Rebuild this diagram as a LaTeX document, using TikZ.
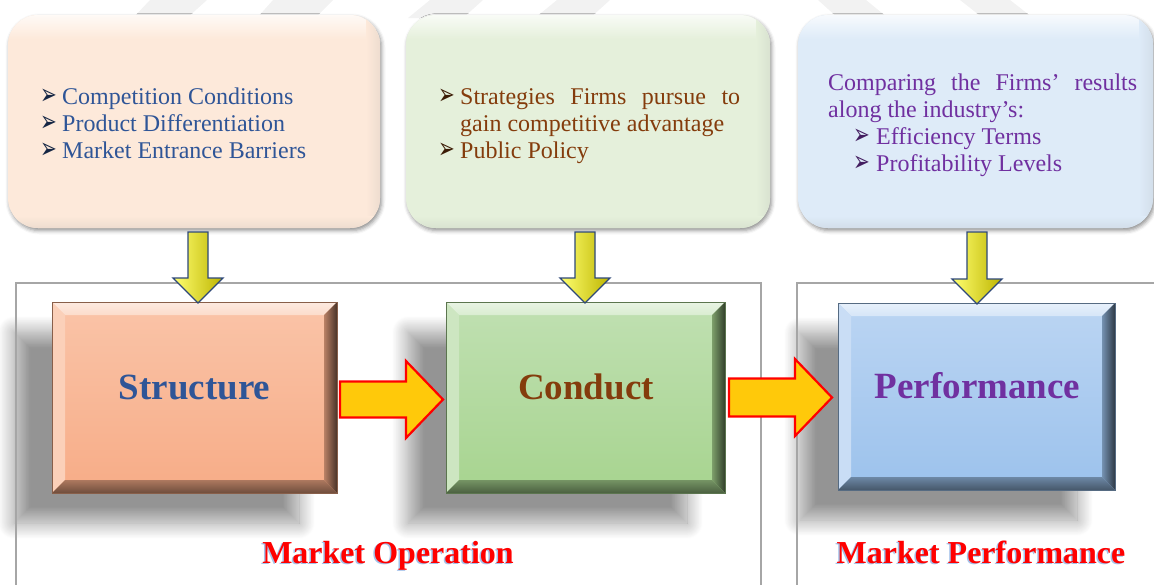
\documentclass[tikz,border=0pt]{standalone}
\usepackage{fontspec}
\setmainfont{Liberation Serif}
\newfontfamily\symfont{DejaVu Sans}
\usetikzlibrary{calc,shadows.blur}

\definecolor{peachbg}{HTML}{FDE9DA}
\definecolor{greenbg}{HTML}{E5F0DB}
\definecolor{bluebg}{HTML}{DEEBF8}
\definecolor{navytext}{HTML}{2F5597}
\definecolor{browntext}{HTML}{843C0C}
\definecolor{purpletext}{HTML}{7030A0}
\definecolor{salmonA}{HTML}{FAC4A8}
\definecolor{salmonB}{HTML}{F7AC87}
\definecolor{greenA}{HTML}{C0E0B2}
\definecolor{greenB}{HTML}{A7D48F}
\definecolor{blueA}{HTML}{BBD5F3}
\definecolor{blueB}{HTML}{9CC2EC}
\definecolor{framegray}{HTML}{A6A6A6}
\definecolor{arroworange}{HTML}{FFC90A}
\definecolor{arrowred}{HTML}{FF0000}
\definecolor{arrownavy}{HTML}{2E4878}
\definecolor{titleblue}{HTML}{A4C2EA}
\definecolor{yellowlight}{HTML}{FFFF70}
\definecolor{yellowmid}{HTML}{F5F000}
\definecolor{yellowdark}{HTML}{BDB400}

% bevelled main box drawn over the named node #1
\newcommand{\bevelbox}[3]{%
  \shade[top color=#2, bottom color=#3] (#1.north west) rectangle (#1.south east);
  \shade[top color=#2!35!white, bottom color=#2!60!white]
    (#1.north west) -- (#1.north east) -- ($(#1.north east)+(-13,13)$) -- ($(#1.north west)+(13,13)$) -- cycle;
  \fill[#2!80!white]
    (#1.north west) -- ($(#1.north west)+(13,13)$) -- ($(#1.south west)+(13,-13)$) -- (#1.south west) -- cycle;
  \shade[left color=#3!75!black, right color=#3!30!black]
    (#1.north east) -- (#1.south east) -- ($(#1.south east)+(-13,-13)$) -- ($(#1.north east)+(-13,13)$) -- cycle;
  \shade[top color=#3!70!black, bottom color=#3!45!black]
    (#1.south west) -- ($(#1.south west)+(13,-13)$) -- ($(#1.south east)+(-13,-13)$) -- (#1.south east) -- cycle;
  \draw[#3!55!black, line width=0.5pt] (#1.north west) rectangle (#1.south east);
}

% list bullet, a little taller than the plain glyph
\newcommand{\listarrow}{\scalebox{1}[1.45]{➢}}

\tikzset{
  infobox/.style={rounded corners=30pt, inner sep=0pt, outer sep=0pt,
    blur shadow={shadow xshift=1.5pt, shadow yshift=-2.5pt, shadow blur radius=4pt, shadow opacity=45}},
  mainbox/.style={inner sep=0pt, outer sep=0pt, minimum height=191pt},
  bodytext/.style={anchor=base west, inner sep=0pt, font=\fontsize{24}{27}\selectfont},
  bulletmark/.style={anchor=base west, inner sep=0pt, font=\symfont\fontsize{20}{20}\selectfont},
  boxtitle/.style={anchor=base, inner sep=0pt, font=\fontsize{37}{37}\selectfont\bfseries},
  regiontitle/.style={anchor=base, inner sep=0pt, font=\fontsize{32}{32}\selectfont\bfseries},
  stripe/.style={fill=gray!10},
  framebox/.style={draw=framegray, line width=1.8pt},
  flowarrow/.style={fill=arroworange, draw=arrowred, line width=2.2pt, line join=miter},
  feedarrow/.style={left color=yellowlight, middle color=yellowmid, right color=yellowdark,
    draw=arrownavy, line width=1.3pt, line join=miter},
  boxshadow/.style={blur shadow={shadow xshift=-38pt, shadow yshift=-30pt,
    shadow blur radius=16pt, shadow opacity=42, shadow blur steps=20}}
}

\begin{document}
\begin{tikzpicture}[x=1pt,y=-1pt]
\useasboundingbox (0,0) rectangle (1154,584);
\clip (0,0) rectangle (1154,584);

% faint diagonal stripes behind the top row
\fill[stripe] (150,0) -- (207,0) -- (187,18) -- (133,18) -- cycle;
\fill[stripe] (273,0) -- (333,0) -- (315,18) -- (257,18) -- cycle;
\fill[stripe] (430,0) -- (483,0) -- (463,18) -- (408,18) -- cycle;
\fill[stripe] (557,0) -- (610,0) -- (590,18) -- (535,18) -- cycle;
\fill[stripe] (818,0) -- (866,0) -- (888,18) -- (838,18) -- cycle;
\fill[stripe] (960,0) -- (1010,0) -- (1033,18) -- (983,18) -- cycle;

% top information boxes
\node[infobox, fill=peachbg, minimum width=372pt, minimum height=213pt] (t1) at (194,121.5) {};
\node[infobox, fill=greenbg, minimum width=364pt, minimum height=213pt] (t2) at (588,121.5) {};
\node[infobox, fill=bluebg, minimum width=355pt, minimum height=213pt] (t3) at (975.5,121.5) {};

% soft highlight along the top of each information box
\foreach \b/\c in {t1/peachbg, t2/greenbg, t3/bluebg}{
  \begin{scope}
    \clip[rounded corners=30pt] (\b.north west) rectangle (\b.south east);
    \shade[top color=white!75!\c, bottom color=\c] (\b.north west) rectangle ($(\b.north east)+(0,24)$);
    \shade[left color=\c, right color=\c!88!gray] ($(\b.north east)+(-14,0)$) rectangle (\b.south east);
    \shade[top color=\c, bottom color=\c!88!gray] ($(\b.south west)+(0,-12)$) rectangle (\b.south east);
  \end{scope}
}

% texts of the information boxes
\node[bulletmark, text=navytext!45!black] (b11) at (40,104) {\listarrow};
\node[bodytext, text=navytext] (l11) at (62,104) {Competition Conditions};
\node[bulletmark, text=navytext!45!black] (b12) at (40,131) {\listarrow};
\node[bodytext, text=navytext] (l12) at (62,131) {Product Differentiation};
\node[bulletmark, text=navytext!45!black] (b13) at (40,158) {\listarrow};
\node[bodytext, text=navytext] (l13) at (62,158) {Market Entrance Barriers};

\node[bulletmark, text=browntext!45!black] (b21) at (438,104) {\listarrow};
\node[bodytext, text=browntext] (l21) at (460,104) {\makebox[280pt][s]{Strategies Firms pursue to}};
\node[bodytext, text=browntext] (l22) at (460,131) {gain competitive advantage};
\node[bulletmark, text=browntext!45!black] (b22) at (438,158) {\listarrow};
\node[bodytext, text=browntext] (l23) at (460,158) {Public Policy};

\node[bodytext, text=purpletext] (l31) at (828,90) {\makebox[309pt][s]{Comparing the Firms’ results}};
\node[bodytext, text=purpletext] (l32) at (828,117) {along the industry’s:};
\node[bulletmark, text=purpletext!60!black] (b31) at (853,144) {\listarrow};
\node[bodytext, text=purpletext] (l33) at (876,144) {Efficiency Terms};
\node[bulletmark, text=purpletext!60!black] (b32) at (853,171) {\listarrow};
\node[bodytext, text=purpletext] (l34) at (876,171) {Profitability Levels};

% main boxes (geometry only; drawn below)
\node[mainbox, minimum width=285pt] (s) at (194.5,397.5) {};
\node[mainbox, minimum width=279pt] (c) at (585.5,397.5) {};
\node[mainbox, minimum width=277pt, minimum height=187pt] (p) at (976.5,396.5) {};

% soft shadows of the main boxes
\foreach \b in {s,c,p}{
  \path[boxshadow] (\b.north west) rectangle (\b.south east);
}

% region frames
\draw[framebox] (16,650) -- (16,283) -- (761,283) -- (761,650);
\draw[framebox] (797,650) -- (797,283) -- (1170,283);

% bevelled faces
\bevelbox{s}{salmonA}{salmonB}
\bevelbox{c}{greenA}{greenB}
\bevelbox{p}{blueA}{blueB}

\node[boxtitle, text=navytext] (st) at (194.5,399) {Structure};
\node[boxtitle, text=browntext] (ct) at (586,399) {Conduct};
\node[boxtitle, text=purpletext] (pt) at (977.5,398) {Performance};

% yellow arrows from the information boxes down to the main boxes
\draw[feedarrow] let \p1=($(t1.south)+(4,4)$), \p2=($(s.north)+(0,1)$) in
  (\x1-10pt,\y1) -- (\x1+10pt,\y1) -- (\x1+10pt,\y2+25pt) -- (\x1+25pt,\y2+25pt)
  -- (\x1,\y2) -- (\x1-25pt,\y2+25pt) -- (\x1-10pt,\y2+25pt) -- cycle;
\draw[feedarrow] let \p1=($(t2.south)+(-3,4)$), \p2=($(c.north)+(0,1)$) in
  (\x1-10pt,\y1) -- (\x1+10pt,\y1) -- (\x1+10pt,\y2+25pt) -- (\x1+25pt,\y2+25pt)
  -- (\x1,\y2) -- (\x1-25pt,\y2+25pt) -- (\x1-10pt,\y2+25pt) -- cycle;
\draw[feedarrow] let \p1=($(t3.south)+(1.5,4)$), \p2=($(p.north)+(0,1)$) in
  (\x1-10pt,\y1) -- (\x1+10pt,\y1) -- (\x1+10pt,\y2+25pt) -- (\x1+25pt,\y2+25pt)
  -- (\x1,\y2) -- (\x1-25pt,\y2+25pt) -- (\x1-10pt,\y2+25pt) -- cycle;

% orange block arrows between the main boxes
\draw[flowarrow] let \p1=($(s.east)+(3,2)$), \p2=($(c.west)+(-3,2)$) in
  (\x1,\y1+18pt) -- (\x2-37pt,\y1+18pt) -- (\x2-37pt,\y1+38.5pt) -- (\x2,\y1)
  -- (\x2-37pt,\y1-38.5pt) -- (\x2-37pt,\y1-18pt) -- (\x1,\y1-18pt) -- cycle;
\draw[flowarrow] let \p1=($(c.east)+(4,0)$), \p2=($(p.west)+(-6,0)$) in
  (\x1,\y1+19pt) -- (\x2-37pt,\y1+19pt) -- (\x2-37pt,\y1+38.5pt) -- (\x2,\y1)
  -- (\x2-37pt,\y1-38.5pt) -- (\x2-37pt,\y1-19pt) -- (\x1,\y1-19pt) -- cycle;

% region titles with light blue offset shadow
\node[regiontitle, text=titleblue] (mo2) at (386.5,564.5) {Market Operation};
\node[regiontitle, text=arrowred] (mo) at (388,563) {Market Operation};
\node[regiontitle, text=titleblue] (mp2) at (979.5,564.5) {Market Performance};
\node[regiontitle, text=arrowred] (mp) at (981,563) {Market Performance};
\end{tikzpicture}
\end{document}
